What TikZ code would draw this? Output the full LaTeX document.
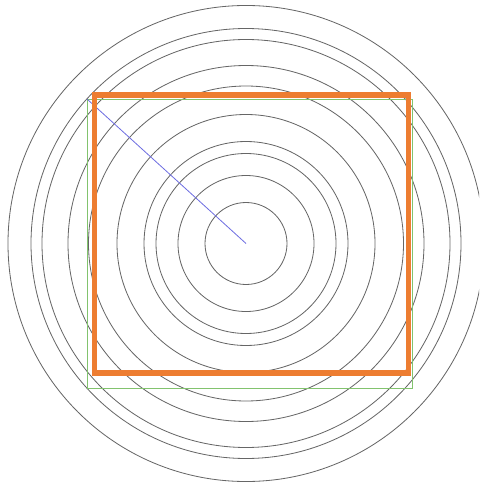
\documentclass[tikz,border=0pt]{standalone}
\usepackage{tikz}

\definecolor{frameorange}{RGB}{237,125,49}
\definecolor{boxgreen}{RGB}{130,195,110}
\definecolor{rayblue}{RGB}{110,110,225}

\begin{document}
\begin{tikzpicture}[
    x=0.03cm, y=-0.03cm,
    ring/.style={draw=black!60, line width=0.7pt},
    frame/.style={draw=frameorange, line width=4.3pt},
    box/.style={draw=boxgreen, line width=0.7pt},
    ray/.style={draw=rayblue, line width=0.7pt},
]
\useasboundingbox (0,0) rectangle (479,482);
\clip (0,0) rectangle (479,482);
\coordinate (c) at (246,243.5);
\coordinate (g1) at (87.3,99.3);
\coordinate (g2) at (412.7,388.5);
\coordinate (o1) at (94.3,95);
\coordinate (o2) at (408.3,373);
% rings
\foreach \r in {41,68,90,102,129,157.5,178,204,215,238}
  \draw[ring] (c) circle[radius=\r];
% boxes and ray
\draw[box] (g1) rectangle (g2);
\draw[ray] (c) -- (g1);
\draw[frame] (o1) rectangle (o2);
\end{tikzpicture}
\end{document}
